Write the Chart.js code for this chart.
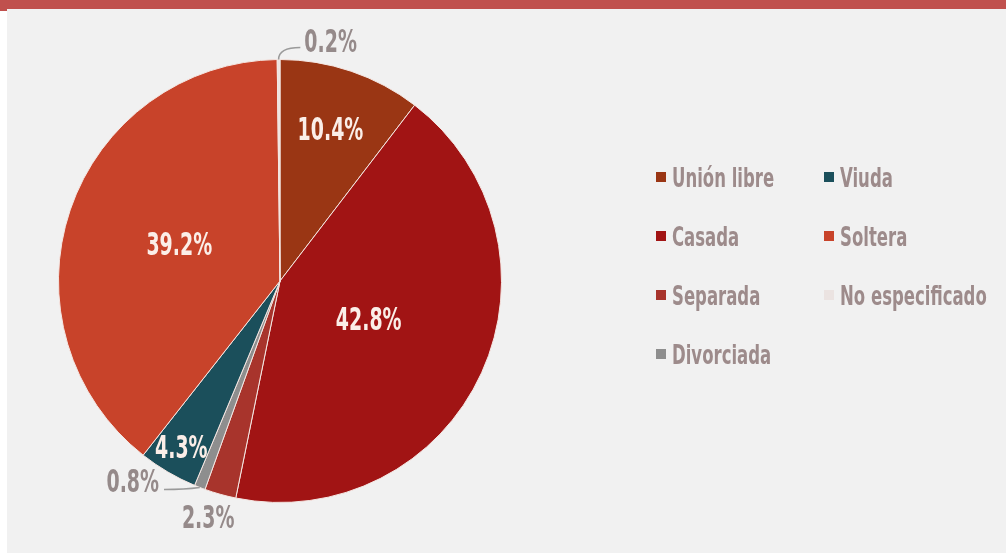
<!DOCTYPE html>
<html>
<head>
<meta charset="utf-8">
<script src="https://cdn.jsdelivr.net/npm/chart.js@4.4.0/dist/chart.umd.min.js"></script>
<style>
  html, body { margin: 0; padding: 0; background: #fff; }
  body { width: 1006px; height: 553px; position: relative; overflow: hidden; }
  #band { position: absolute; left: 0; top: 0; width: 1006px; height: 9px; background: #c0504d; }
  #band-left { position: absolute; left: 0; top: 9px; width: 7px; height: 2px; background: #c0504d; }
  #panel { position: absolute; left: 7px; top: 9px; width: 999px; height: 544px; background: #f1f1f1; }
  #chart { position: absolute; left: 0; top: 0; }
  #legend { position: absolute; left: 649px; top: 145px; display: grid; grid-auto-flow: column;
            grid-template-rows: repeat(4, 59px); grid-template-columns: 168px 170px; }
  .lg-item { display: flex; align-items: center; height: 46px;
             font-family: "Liberation Sans Narrow", "DejaVu Sans Condensed", sans-serif; font-weight: bold;
             font-size: 27px; color: #9d8b8b; white-space: nowrap; }
  .lg-item span.txt { display: inline-block; transform: scaleX(0.68); transform-origin: left center; }
  .lg-box { width: 10px; height: 10px; margin-right: 6px; flex: none; }
</style>
</head>
<body>
<div id="band"></div>
<div id="band-left"></div>
<div id="panel">
  <canvas id="chart" width="999" height="544"></canvas>
  <div id="legend"></div>
</div>
<script>
const categories = ['Unión libre', 'Casada', 'Separada', 'Divorciada', 'Viuda', 'Soltera', 'No especificado'];
const shares     = [10.4, 42.8, 2.3, 0.8, 4.3, 39.2, 0.2];
const sliceColors = ['#9a3614', '#a11414', '#a8342c', '#8e8e8e', '#1b4f5b', '#c8432a', '#ebe3e1'];

// label placement per slice: inside (radius fraction) or outside (offset from rim)
const labelStyle = [
  { inside: true,  r: 0.71 },
  { inside: true,  r: 0.44 },
  { inside: false, dx: -12, dy: 25, leader: false },
  { inside: false, dx: -67, dy: -4, leader: true, side: 'right' },
  { inside: true,  r: 0.88 },
  { inside: true,  r: 0.48 },
  { inside: false, dx: 52, dy: -16, leader: true, side: 'left' },
];

const FONT = '"Liberation Sans Narrow", "DejaVu Sans Condensed", sans-serif';

const PieLabels = {
  id: 'pieLabels',
  afterDatasetsDraw(chart) {
    const ctx = chart.ctx;
    const meta = chart.getDatasetMeta(0);
    meta.data.forEach((arc, i) => {
      const st = labelStyle[i];
      const mid = (arc.startAngle + arc.endAngle) / 2;
      const R = arc.outerRadius;
      const txt = shares[i].toFixed(1) + '%';
      ctx.save();
      ctx.font = 'bold 27px ' + FONT;
      ctx.textAlign = 'center';
      ctx.textBaseline = 'middle';
      let x, y;
      if (st.inside) {
        x = arc.x + Math.cos(mid) * R * st.r;
        y = arc.y + Math.sin(mid) * R * st.r;
        ctx.fillStyle = '#fbeee8';
      } else {
        const ex = arc.x + Math.cos(mid) * R, ey = arc.y + Math.sin(mid) * R;
        x = ex + st.dx; y = ey + st.dy;
        ctx.fillStyle = '#958a8a';
        if (st.leader) {
          const w = ctx.measureText(txt).width * 0.78;
          const lx = st.side === 'left' ? x - w / 2 - 4 : x + w / 2 + 5;
          const ly = y + (st.side === 'left' ? 4 : 6);
          ctx.strokeStyle = '#9a9a9a';
          ctx.lineWidth = 1.5;
          ctx.beginPath();
          ctx.moveTo(ex, ey);
          ctx.quadraticCurveTo(st.side === 'left' ? ex : ex - 15, ly, lx, ly);
          ctx.stroke();
        }
      }
      ctx.translate(x, y);
      ctx.scale(0.78, 1.2);
      ctx.fillText(txt, 0, 0);
      ctx.restore();
    });
  }
};

const chart = new Chart(document.getElementById('chart'), {
  type: 'pie',
  data: {
    labels: categories,
    datasets: [{
      data: shares,
      backgroundColor: sliceColors,
      borderColor: '#f4e6e2',
      borderWidth: 1,
    }]
  },
  options: {
    responsive: false,
    animation: false,
    layout: { padding: { left: 51, top: 50, right: 504, bottom: 50 } },
    plugins: { legend: { display: false }, tooltip: { enabled: false } },
  },
  plugins: [PieLabels],
});

document.getElementById('legend').innerHTML = categories.map((c, i) =>
  `<div class="lg-item"><div class="lg-box" style="background:${sliceColors[i]}"></div><span class="txt">${c}</span></div>`
).join('');
</script>
</body>
</html>
